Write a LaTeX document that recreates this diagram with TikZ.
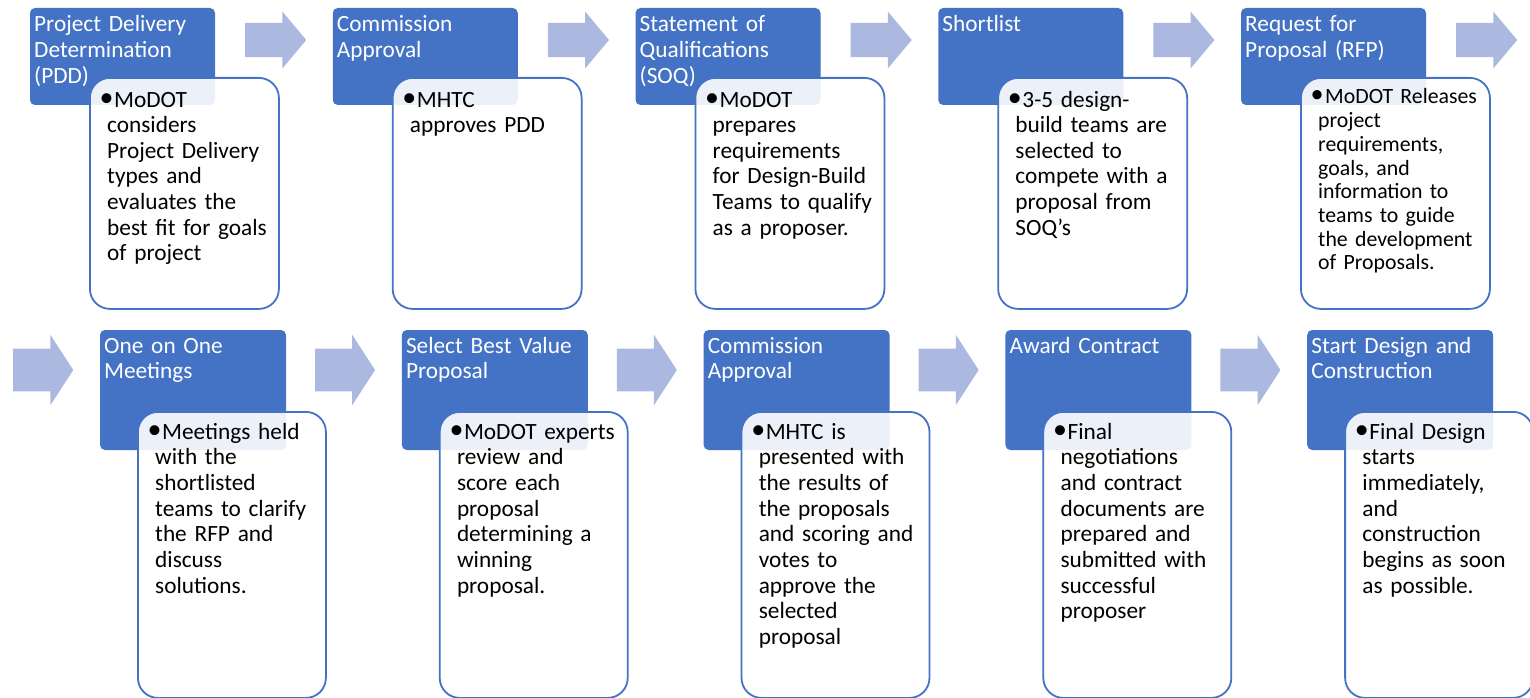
\documentclass[tikz,border=0pt]{standalone}
\usepackage{fontspec}
\setmainfont{Carlito}
\usepackage{xcolor}
\usepackage{graphicx}
\usetikzlibrary{shapes.arrows}

\definecolor{stepblue}{RGB}{68,114,196}
\definecolor{flowblue}{RGB}{171,185,224}
\newcommand{\bul}{\hspace*{-7.5pt}\makebox[14.5pt][l]{\raisebox{1pt}{\scalebox{1.2}{\textbullet}}}}

\begin{document}
\begin{tikzpicture}[x=1pt,y=-1pt,
  head/.style={fill=stepblue,rounded corners=5pt,inner sep=0pt,outer sep=0pt,anchor=north west},
  card/.style={draw=stepblue,line width=1.8pt,fill=white,fill opacity=0.9,rounded corners=20pt,inner sep=0pt,anchor=north west},
  headtxt/.style={anchor=base west,inner sep=0pt,text=white,text width=185pt,align=left,font=\fontsize{23.3}{25.6}\selectfont},
  bodytxt/.style={anchor=base west,inner sep=0pt,text width=190pt,align=left},
  flow/.style={single arrow,fill=flowblue,inner sep=0pt,minimum height=61pt,text height=17pt,text depth=17pt,
    single arrow head extend=11.3pt,single arrow tip angle=100},
  flowlow/.style={flow,minimum height=60pt,text height=21.2pt,text depth=21.2pt,single arrow head extend=13.8pt,single arrow tip angle=114}]
\useasboundingbox (0,0) rectangle (1530,698);
% upper row
\foreach \i/\fs/\lsk/\by/\hd/\bd in {
  1/23.3/25.6/107/{Project Delivery\\Determination\\(PDD)}/{\bul MoDOT\\considers\\Project Delivery\\types and\\evaluates the\\best fit for goals\\of project},
  2/23.3/25.6/107/{Commission\\Approval}/{\bul MHTC\\approves PDD},
  3/23.3/25.6/107/{Statement of\\Qualifications\\(SOQ)}/{\bul MoDOT\\prepares\\requirements\\for Design-Build\\Teams to qualify\\as a proposer.},
  4/23.3/25.6/107/{Shortlist}/{\bul 3-5 design-\\build teams are\\selected to\\compete with a\\proposal from\\SOQ’s},
  5/21.8/23.7/104/{Request for\\Proposal (RFP)}/{\bul MoDOT Releases\\project\\requirements,\\goals, and\\information to\\teams to guide\\the development\\of Proposals.}} {
  \pgfmathsetmacro\bx{30+302.75*(\i-1)}
  \node[flow] (f\i) at (\bx+238.5,40) {};
  \node[head,minimum width=185pt,minimum height=97pt] (h\i) at (\bx,8) {};
  \node[headtxt] (ht\i) at (\bx+4,32) {\hd};
  \node[card,minimum width=189pt,minimum height=231pt] (c\i) at (\bx+59,77) {};
  \node[bodytxt,font=\fontsize{\fs}{\lsk}\selectfont] (bt\i) at (\bx+77,\by) {\bd};
}
% lower row
\foreach \i/\hd/\bd in {
  6/{One on One\\Meetings}/{\bul Meetings held\\with the\\shortlisted\\teams to clarify\\the RFP and\\discuss\\solutions.},
  7/{Select Best Value\\Proposal}/{\bul MoDOT experts\\review and\\score each\\proposal\\determining a\\winning\\proposal.},
  8/{Commission\\Approval}/{\bul MHTC is\\presented with\\the results of\\the proposals\\and scoring and\\votes to\\approve the\\selected\\proposal},
  9/{Award Contract}/{\bul Final\\negotiations\\and contract\\documents are\\prepared and\\submitted with\\successful\\proposer},
  10/{Start Design and\\Construction}/{\bul Final Design\\starts\\immediately,\\and\\construction\\begins as soon\\as possible.}} {
  \pgfmathsetmacro\bx{100+301.8*(\i-6)}
  \node[flowlow] (f\i) at (\bx-63.7,370) {};
  \node[head,minimum width=186pt,minimum height=120pt] (h\i) at (\bx,330) {};
  \node[headtxt] (ht\i) at (\bx+4,353) {\hd};
  \node[card,minimum width=188pt,minimum height=286pt] (c\i) at (\bx+37,411) {};
  \node[bodytxt,font=\fontsize{23.3}{25.7}\selectfont] (bt\i) at (\bx+55,439) {\bd};
}
\end{tikzpicture}
\end{document}
